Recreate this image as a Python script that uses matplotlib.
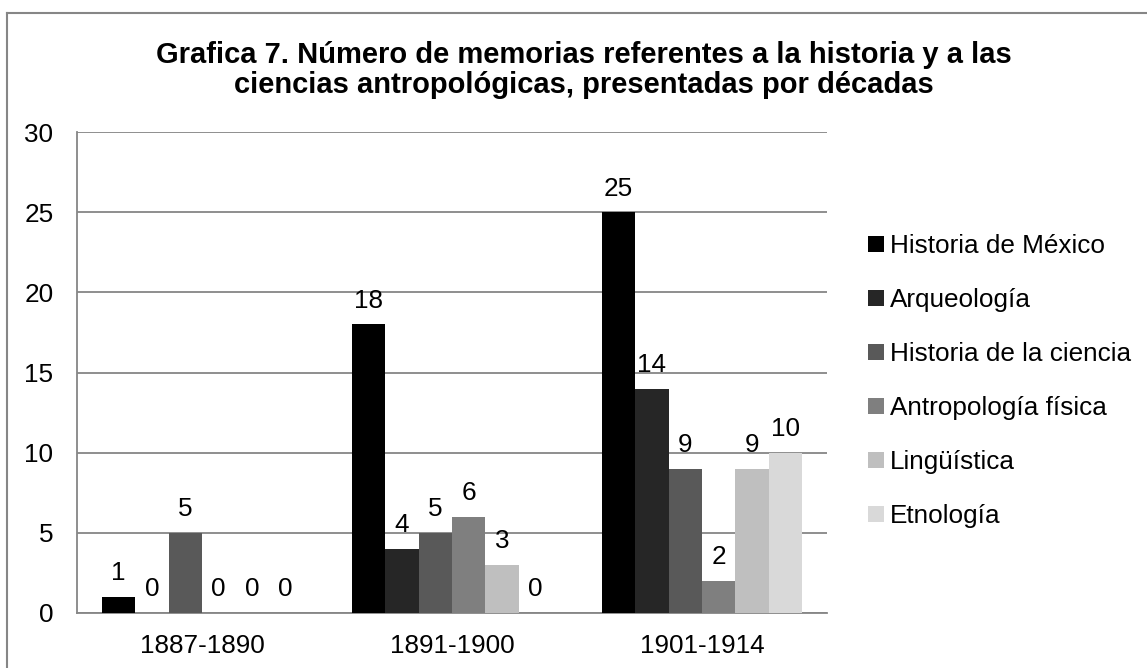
import matplotlib
matplotlib.use("Agg")
import matplotlib.pyplot as plt
import numpy as np
from matplotlib.lines import Line2D

categories = ["1887-1890", "1891-1900", "1901-1914"]
series_names = ["Historia de México", "Arqueología", "Historia de la ciencia",
                "Antropología física", "Lingüística", "Etnología"]
historia_mexico = [1, 18, 25]
arqueologia = [0, 4, 14]
historia_ciencia = [5, 5, 9]
antropologia_fisica = [0, 6, 2]
linguistica = [0, 3, 9]
etnologia = [0, 0, 10]
series_values = [historia_mexico, arqueologia, historia_ciencia,
                 antropologia_fisica, linguistica, etnologia]
colors = ["#000000", "#262626", "#595959", "#7f7f7f", "#bfbfbf", "#d9d9d9"]
y_ticks = [0, 5, 10, 15, 20, 25, 30]
title = "Grafica 7. Número de memorias referentes a la historia y a las\nciencias antropológicas, presentadas por décadas"

plt.rcParams['font.family'] = ['Liberation Sans', 'DejaVu Sans']
FS = 18.8
W, H = 1147, 668
fig = plt.figure(figsize=(W / 100, H / 100), dpi=100)
ax = fig.add_axes([77 / W, 1 - 613 / H, (827 - 77) / W, (613 - 132) / H])

x = np.arange(len(categories))
n = len(series_values)
bw = 0.8 / n
for i, (vals, col, name) in enumerate(zip(series_values, colors, series_names)):
    pos = x - 0.4 + bw * (i + 0.5)
    ax.bar(pos, vals, width=bw, color=col, label=name, zorder=3, linewidth=0)
    for p, v in zip(pos, vals):
        ax.annotate(str(v), (p, v), xytext=(0, 12), textcoords="offset points",
                    ha="center", va="baseline", fontsize=FS, color="black", zorder=4)

ax.set_xlim(-0.5, len(categories) - 0.5)
ax.set_ylim(0, 30)
ax.set_yticks(y_ticks)
ax.set_xticks(x)
ax.set_xticklabels(categories)
ax.tick_params(axis="both", length=0, labelsize=FS)
ax.tick_params(axis="y", pad=17)
ax.tick_params(axis="x", pad=15)
ax.yaxis.grid(True, color="#868686", linewidth=1.3, zorder=0)
ax.set_axisbelow(True)
for s in ["top", "right"]:
    ax.spines[s].set_visible(False)
for s in ["left", "bottom"]:
    ax.spines[s].set_color("#868686")
    ax.spines[s].set_linewidth(1.3)

fig.text(584 / W, 1 - 70 / H, title, ha="center", va="center", fontsize=21,
         fontweight="bold", linespacing=1.12)

leg = ax.legend(loc="upper left", bbox_to_anchor=(868 / W, 1 - 234 / H),
                bbox_transform=fig.transFigure, frameon=False, fontsize=FS,
                handlelength=0.6, handleheight=0.6, handletextpad=0.25,
                labelspacing=1.15, borderpad=0, borderaxespad=0)

# outer chart border (top and left visible)
fig.add_artist(Line2D([7 / W, 7 / W], [0, 1 - 13 / H], transform=fig.transFigure,
                      color="#868686", linewidth=1.5))
fig.add_artist(Line2D([7 / W, 1], [1 - 13 / H, 1 - 13 / H], transform=fig.transFigure,
                      color="#868686", linewidth=1.5))

fig.savefig("out.png", dpi=100, facecolor="white")
